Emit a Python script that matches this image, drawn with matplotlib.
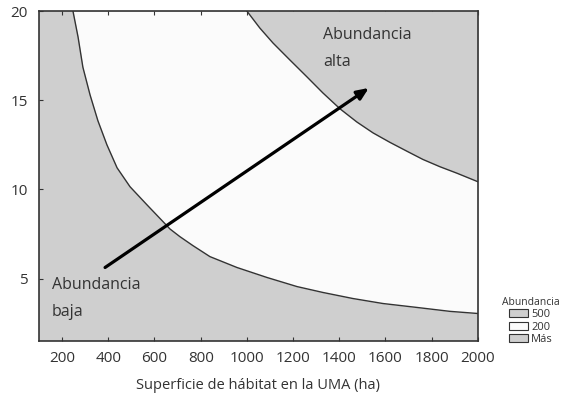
import numpy as np
import matplotlib
matplotlib.use("Agg")
import matplotlib.pyplot as plt
from matplotlib.patches import Patch

plt.rcParams['font.family'] = ['Open Sans', 'DejaVu Sans']

# Limits of the abundance zones, read as (superficie, value) pairs
low_x = [247, 269, 290, 321, 355, 394, 438, 494, 567, 637, 667, 710, 766, 840, 957,
         1087, 1217, 1329, 1459, 1589, 1736, 1879, 2000]
low_y = [20.0, 18.55, 16.85, 15.30, 13.85, 12.50, 11.21, 10.15, 9.14, 8.19, 7.78,
         7.35, 6.85, 6.23, 5.62, 5.06, 4.55, 4.22, 3.88, 3.60, 3.38, 3.16, 3.04]

high_x = [1000, 1056, 1113, 1186, 1260, 1329, 1403, 1476, 1546, 1619, 1693,
          1762, 1836, 1909, 2000]
high_y = [20.0, 19.05, 18.21, 17.26, 16.31, 15.41, 14.52, 13.78, 13.17, 12.64,
          12.14, 11.68, 11.27, 10.91, 10.43]

# Arrow from low to high abundance
arrow_start = (386, 5.62)
arrow_end = (1528, 15.69)

x_ticks = [200, 400, 600, 800, 1000, 1200, 1400, 1600, 1800, 2000]
y_ticks = [5, 10, 15, 20]
legend_labels = ['500', '200', 'Más']

grey = '#cfcfcf'
white = '#fbfbfb'
line_col = '#333333'
text_col = '#333333'

fig = plt.figure(figsize=(5.67, 3.96), dpi=100)
ax = fig.add_axes([0.0688, 0.139, 0.774, 0.833])
ax.set_facecolor(grey)

ax.fill_between(low_x, low_y, 20, color=white, lw=0, zorder=1)
ax.fill_between(high_x, high_y, 20, color=grey, lw=0, zorder=2)
ax.plot(low_x, low_y, color=line_col, lw=1.0, zorder=3)
ax.plot(high_x, high_y, color=line_col, lw=1.0, zorder=3)

ax.annotate('', xy=arrow_end, xytext=arrow_start,
            arrowprops=dict(arrowstyle='-|>,head_length=0.7,head_width=0.3',
                            color='black', lw=2.3, shrinkA=0, shrinkB=0),
            zorder=4)

ax.text(1329, 19.1, 'Abundancia\nalta', fontsize=11.5, color=text_col,
        va='top', ha='left', linespacing=1.9, zorder=5)
ax.text(156, 5.1, 'Abundancia\nbaja', fontsize=11.5, color=text_col,
        va='top', ha='left', linespacing=1.9, zorder=5)

ax.set_xlim(100, 2000)
ax.set_ylim(1.5, 20)
ax.set_xticks(x_ticks)
ax.set_yticks(y_ticks)
ax.tick_params(axis='both', direction='in', length=3, width=0.8, colors=line_col,
               labelsize=11, labelcolor=text_col, top=True)
ax.tick_params(axis='x', pad=7)
ax.tick_params(axis='y', pad=8)
ax.set_xlabel('Superficie de hábitat en la UMA (ha)', fontsize=10.5, color=text_col, labelpad=9)
for s in ax.spines.values():
    s.set_color(line_col)
    s.set_linewidth(1.2)

handles = [Patch(facecolor=c, edgecolor=line_col, lw=0.8) for c in [grey, white, grey]]
leg = fig.legend(handles, legend_labels, title='Abundancia', loc='upper left',
                 bbox_to_anchor=(0.872, 0.27), frameon=False, fontsize=8,
                 title_fontsize=7.5, handlelength=1.7, handleheight=0.7,
                 labelspacing=0.12, handletextpad=0.3, borderpad=0.2)
leg.get_title().set_color(text_col)
for t in leg.get_texts():
    t.set_color(text_col)

fig.savefig('out.png', dpi=100)
